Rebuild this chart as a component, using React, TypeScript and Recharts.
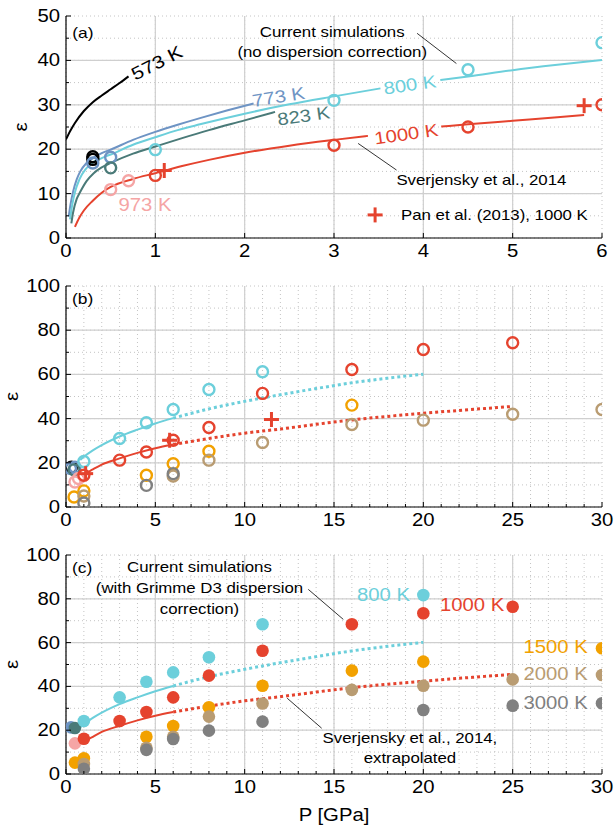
import React from "react";
import { CartesianGrid, ComposedChart, Line, ReferenceDot, ReferenceLine, Scatter, XAxis, YAxis } from "recharts";

const FONT = '"Liberation Sans", Arial, Helvetica, sans-serif';
const SX = 1.16; // the reference lettering is a little wide

const BLACK = "#000000";
const BLUE = "#6e94c4";
const CYAN = "#6ccfdb";
const SLATE = "#4a7a78";
const RED = "#e5432e";
const PINK = "#f5a5a5";
const ORANGE = "#f2a100";
const TAN = "#b99c72";
const GRAY = "#808080";

type Pt = [number, number];

// ticks
const A_X_TICKS = [0, 1, 2, 3, 4, 5, 6];
const A_X_MAJOR = [0, 1, 2, 3, 4, 5, 6];
const A_Y_TICKS = [0, 5, 10, 15, 20, 25, 30, 35, 40, 45, 50];
const A_Y_MAJOR = [0, 10, 20, 30, 40, 50];
const BC_X_TICKS = [
  0, 1, 2, 3, 4, 5, 6, 7, 8, 9, 10, 11, 12, 13, 14, 15, 16, 17, 18, 19, 20, 21, 22, 23, 24, 25, 26, 27, 28, 29, 30,
];
const BC_X_MAJOR = [0, 5, 10, 15, 20, 25, 30];
const BC_Y_TICKS = [0, 10, 20, 30, 40, 50, 60, 70, 80, 90, 100];
const BC_Y_MAJOR = [0, 20, 40, 60, 80, 100];

// (a) Sverjensky et al. 2014 curves
const A_573: Pt[] = [[0, 22.2], [0.05, 24.2], [0.1, 25.9], [0.2, 28.6], [0.3, 30.6], [0.4, 32.1], [0.5, 33.5], [0.6, 34.9], [0.7, 36.4]];
const A_773: Pt[] = [[0.03, 4.8], [0.05, 7.5], [0.08, 10.5], [0.12, 13.2], [0.16, 15], [0.23, 16.9], [0.31, 18.1], [0.4, 19.1], [0.5, 19.9], [0.75, 22.1], [1, 23.9], [1.25, 25.5], [1.5, 27], [1.8, 28.7], [2.1, 30.3]];
const A_800_1: Pt[] = [[0.045, 4.2], [0.07, 7.5], [0.1, 10.3], [0.15, 13.2], [0.22, 15.5], [0.3, 17], [0.4, 18], [0.5, 18.8], [0.75, 21], [1, 22.7], [1.25, 24.3], [1.5, 25.6], [2, 28], [2.5, 30.1], [3, 31.9], [3.52, 33.7]];
const A_800_2: Pt[] = [[4.19, 35.6], [4.5, 36.4], [5, 37.8], [5.5, 39], [6, 40.1]];
const A_823: Pt[] = [[0.06, 3.3], [0.08, 5.8], [0.12, 8.8], [0.16, 10.4], [0.23, 12.8], [0.31, 14.6], [0.4, 15.9], [0.5, 16.9], [0.75, 19], [1, 20.6], [1.3, 22.5], [1.6, 24.3], [2, 26.5], [2.34, 28.4]];
const A_1000_1: Pt[] = [[0.1, 2.5], [0.15, 4.6], [0.2, 6.2], [0.3, 8.4], [0.4, 10.2], [0.5, 11.5], [0.75, 13.3], [1, 14.6], [1.3, 16.2], [1.6, 17.6], [2, 19.2], [2.5, 20.8], [3, 22.1], [3.38, 23]];
const A_1000_2: Pt[] = [[4.2, 25.1], [4.5, 25.6], [5, 26.4], [5.5, 27.2], [5.8, 27.7]];

// (b), (c) Sverjensky curves, dotted part extrapolated
const S_800: Pt[] = [[0.8, 21.3], [1, 22.7], [1.5, 25.6], [2, 28], [3, 31.9], [4, 35], [5, 37.8], [6, 40.2]];
const S_800_EXT: Pt[] = [[6, 40.2], [8, 44.4], [10, 47.8], [12, 50.8], [14, 53.6], [16, 56.2], [18, 58.3], [20, 60.1]];
const S_1000: Pt[] = [[0.9, 13.9], [1, 14.6], [1.5, 17], [2, 19.2], [3, 22], [4, 24.5], [5, 26.6], [6, 28.3]];
const S_1000_EXT: Pt[] = [[6, 28.3], [8, 31], [10, 33.4], [12, 35.3], [14, 37.4], [16, 39.4], [18, 41], [20, 42.4], [22.5, 44], [25, 45.5]];

// (a) simulations, no dispersion correction
const A_PTS_573: Pt[] = [[0.3, 18.3], [0.3, 17.7]];
const A_PTS_773: Pt[] = [[0.3, 16.9], [0.5, 18.2]];
const A_PTS_823: Pt[] = [[0.5, 15.8]];
const A_PTS_973: Pt[] = [[0.5, 10.9], [0.7, 12.9]];
const A_PTS_800: Pt[] = [[1, 19.9], [3, 31], [4.5, 37.9], [6, 44]];
const A_PTS_1000: Pt[] = [[1, 14.1], [3, 20.9], [4.5, 25], [6, 30]];
const A_PAN: Pt[] = [[1.1, 15.2], [5.8, 29.8]];

// (b) same, wider range
const B_PTS_573: Pt[] = [[0.3, 18]];
const B_PTS_773: Pt[] = [[0.25, 17.4], [0.5, 18]];
const B_PTS_823: Pt[] = [[0.45, 16.8]];
const B_PTS_973: Pt[] = [[0.5, 11.3], [0.7, 12.9]];
const B_PTS_800: Pt[] = [[1, 20.6], [3, 31], [4.5, 38.1], [6, 44.1], [8, 53.2], [11, 61.2]];
const B_PTS_1000: Pt[] = [[1, 14.4], [3, 21.2], [4.5, 24.9], [6, 30.2], [8, 36], [11, 51.4], [16, 62.2], [20, 71.3], [25, 74.3]];
const B_PTS_1500: Pt[] = [[0.45, 4.5], [1, 7.3], [4.5, 14.4], [6, 19.6], [8, 25.2], [16, 46.1]];
const B_PTS_2000: Pt[] = [[1, 5], [6, 14], [8, 21.2], [11, 29.2], [16, 37.3], [20, 39.3], [25, 42], [30, 44.1]];
const B_PTS_3000: Pt[] = [[1, 1.8], [4.5, 9.8], [6, 15.1]];
const B_PAN: Pt[] = [[1.1, 15.1], [5.8, 30.2], [11.5, 39.6]];

// (c) with Grimme D3 dispersion correction
const C_PTS_773: Pt[] = [[0.28, 21.3]];
const C_PTS_823: Pt[] = [[0.5, 21]];
const C_PTS_973: Pt[] = [[0.5, 14]];
const C_PTS_800: Pt[] = [[1, 24.2], [3, 35], [4.5, 42.1], [6, 46.4], [8, 53.3], [11, 68.4], [20, 81.7]];
const C_PTS_1000: Pt[] = [[1, 16.1], [3, 24.2], [4.5, 28.3], [6, 35], [8, 44.9], [11, 56.3], [16, 68.4], [20, 73.4], [25, 76.4]];
const C_PTS_1500: Pt[] = [[0.5, 5.2], [1, 7.2], [4.5, 17], [6, 21.9], [8, 30.5], [11, 40.3], [16, 47.2], [20, 51.3], [30, 57.4]];
const C_PTS_2000: Pt[] = [[1, 4.6], [4.5, 12], [6, 17], [8, 26.2], [11, 32.2], [16, 38.4], [20, 40.3], [25, 43.2], [30, 45.2]];
const C_PTS_3000: Pt[] = [[1, 2.4], [4.5, 11], [6, 16], [8, 19.8], [11, 23.9], [20, 29.2], [25, 31.2], [30, 32.3]];

const pts = (a: Pt[]) => a.map(([x, y]) => ({ x, y }));

function Txt({ x, y, size = 17.5, anchor = "middle", fill = "#000", angle = 0, children }: any) {
  return (
    <text
      transform={`translate(${x},${y}) rotate(${angle}) scale(${SX},1)`}
      fontSize={size}
      fontFamily={FONT}
      textAnchor={anchor}
      dominantBaseline="central"
      fill={fill}
    >
      {children}
    </text>
  );
}

function tickFn(side: string, step: number, labels: boolean) {
  return (props: any) => {
    const { x, y, payload } = props;
    const v = payload.value;
    const major = Math.abs(v / step - Math.round(v / step)) < 1e-6;
    const len = major ? 5 : 3;
    let x2 = x;
    let y2 = y;
    if (side === "bottom") y2 = y - len;
    if (side === "top") y2 = y + len;
    if (side === "left") x2 = x + len;
    if (side === "right") x2 = x - len;
    return (
      <g>
        <line x1={x} y1={y} x2={x2} y2={y2} stroke="#000" strokeWidth={1} />
        {labels && major && side === "bottom" && <Txt x={x} y={y + 13}>{v}</Txt>}
        {labels && major && side === "left" && <Txt x={x - 6} y={y} anchor="end">{v}</Txt>}
      </g>
    );
  };
}

function frame(o: any) {
  const xs = o.xMajor[1] - o.xMajor[0];
  const ys = o.yMajor[1] - o.yMajor[0];
  const common = {
    type: "number" as const,
    allowDataOverflow: true,
    interval: 0 as const,
    tickSize: 0,
    tickMargin: 0,
    tickLine: false,
    axisLine: { stroke: "#000", strokeWidth: 1.2 },
  };
  const inner = (a: number[]) => a.slice(1, -1);
  return [
    <CartesianGrid key="g1" stroke="#c4c4c4" strokeDasharray="1 3" />,
    ...inner(o.yMajor).map((v: number) => <ReferenceLine key={`gy${v}`} y={v} stroke="#cfcfcf" strokeWidth={1.2} />),
    ...inner(o.xMajor).map((v: number) => <ReferenceLine key={`gx${v}`} x={v} stroke="#cfcfcf" strokeWidth={1.2} />),
    <XAxis
      key="xb"
      dataKey="x"
      {...common}
      domain={o.xDomain}
      ticks={o.xTicks}
      height={o.xHeight}
      tick={tickFn("bottom", xs, true)}
      label={
        o.xLabel
          ? { content: (p: any) => <Txt x={p.viewBox.x + p.viewBox.width / 2} y={p.viewBox.y + 41}>{o.xLabel}</Txt> }
          : undefined
      }
    />,
    <XAxis key="xt" xAxisId="top" orientation="top" {...common} domain={o.xDomain} ticks={o.xTicks} height={0} tick={tickFn("top", xs, false)} />,
    <YAxis
      key="yl"
      dataKey="y"
      {...common}
      domain={o.yDomain}
      ticks={o.yTicks}
      width={66}
      tick={tickFn("left", ys, true)}
      label={{ content: (p: any) => <Txt x={p.viewBox.x + o.epsX} y={p.viewBox.y + p.viewBox.height / 2} angle={-90}>ε</Txt> }}
    />,
    <YAxis key="yr" yAxisId="right" orientation="right" {...common} domain={o.yDomain} ticks={o.yTicks} width={0} tick={tickFn("right", ys, false)} />,
  ];
}

const ring = (color: string) => (p: any) => <circle cx={p.cx} cy={p.cy} r={5.5} fill="none" stroke={color} strokeWidth={2.4} />;
const disc = (color: string) => (p: any) => <circle cx={p.cx} cy={p.cy} r={6.3} fill={color} />;
const plus = (color: string) => (p: any) => (
  <g stroke={color} strokeWidth={3}>
    <line x1={p.cx - 7.5} y1={p.cy} x2={p.cx + 7.5} y2={p.cy} />
    <line x1={p.cx} y1={p.cy - 7.5} x2={p.cx} y2={p.cy + 7.5} />
  </g>
);

const solid = (key: string, data: Pt[], color: string) => (
  <Line key={key} data={pts(data)} dataKey="y" type="monotone" stroke={color} strokeWidth={2} dot={false} activeDot={false} isAnimationActive={false} />
);
const dotted = (key: string, data: Pt[], color: string) => (
  <Line key={key} data={pts(data)} dataKey="y" type="monotone" stroke={color} strokeWidth={3} strokeDasharray="3 3" dot={false} activeDot={false} isAnimationActive={false} />
);
const marks = (key: string, data: Pt[], shape: any) => (
  <Scatter key={key} data={pts(data)} dataKey="y" shape={shape} isAnimationActive={false} />
);
const note = (x: number, y: number, text: string, o: any = {}) => (
  <ReferenceDot key={`${text}-${x}-${y}`} x={x} y={y} r={0} fill="none" stroke="none" shape={(p: any) => <Txt x={p.cx} y={p.cy} {...o}>{text}</Txt>} />
);
const lead = (x1: number, y1: number, x2: number, y2: number) => (
  <ReferenceLine key={`l-${x1}-${y1}`} segment={[{ x: x1, y: y1 }, { x: x2, y: y2 }]} stroke="#000" strokeWidth={0.8} />
);

const SMALL = { size: 14.5 };

export default function App() {
  return (
    <div style={{ position: "absolute", left: 0, top: 0, width: 614, height: 828, background: "#fff" }}>
      <ComposedChart width={614} height={260} margin={{ top: 16, right: 12, bottom: 0, left: 0 }}>
        {frame({ xDomain: [0, 6], yDomain: [0, 50], xTicks: A_X_TICKS, yTicks: A_Y_TICKS, xMajor: A_X_MAJOR, yMajor: A_Y_MAJOR, xHeight: 22, epsX: 21 })}
        {solid("l573", A_573, BLACK)}
        {solid("l773", A_773, BLUE)}
        {solid("l800a", A_800_1, CYAN)}
        {solid("l800b", A_800_2, CYAN)}
        {solid("l823", A_823, SLATE)}
        {solid("l1000a", A_1000_1, RED)}
        {solid("l1000b", A_1000_2, RED)}
        {marks("p573", A_PTS_573, ring(BLACK))}
        {marks("p773", A_PTS_773, ring(BLUE))}
        {marks("p823", A_PTS_823, ring(SLATE))}
        {marks("p973", A_PTS_973, ring(PINK))}
        {marks("p800", A_PTS_800, ring(CYAN))}
        {marks("p1000", A_PTS_1000, ring(RED))}
        {marks("pan", A_PAN, plus(RED))}
        {note(0.07, 46.4, "(a)", { ...SMALL, anchor: "start", size: 15 })}
        {note(2.98, 46.4, "Current simulations", SMALL)}
        {note(2.98, 41.9, "(no dispersion correction)", SMALL)}
        {lead(3.93, 46.1, 4.37, 39.3)}
        {note(4.65, 13.1, "Sverjensky et al., 2014", SMALL)}
        {lead(3.27, 21.3, 3.7, 15.3)}
        <ReferenceDot x={3.46} y={5.2} r={0} shape={plus(RED)} />
        {note(3.75, 5.2, "Pan et al. (2013), 1000 K", { ...SMALL, anchor: "start" })}
        {note(1.015, 39.5, "573 K", { angle: -27, size: 18 })}
        {note(2.38, 31.8, "773 K", { fill: BLUE, angle: -9 })}
        {note(2.66, 27.5, "823 K", { fill: SLATE, angle: -8 })}
        {note(3.85, 34.5, "800 K", { fill: CYAN, angle: -8 })}
        {note(3.81, 23.4, "1000 K", { fill: RED, angle: -8 })}
        {note(0.885, 7.4, "973 K", { fill: PINK })}
      </ComposedChart>

      <ComposedChart width={614} height={270} margin={{ top: 26, right: 12, bottom: 0, left: 0 }}>
        {frame({ xDomain: [0, 30], yDomain: [0, 100], xTicks: BC_X_TICKS, yTicks: BC_Y_TICKS, xMajor: BC_X_MAJOR, yMajor: BC_Y_MAJOR, xHeight: 23, epsX: 12 })}
        {solid("s800", S_800, CYAN)}
        {dotted("d800", S_800_EXT, CYAN)}
        {solid("s1000", S_1000, RED)}
        {dotted("d1000", S_1000_EXT, RED)}
        {marks("b573", B_PTS_573, ring(BLACK))}
        {marks("b773", B_PTS_773, ring(BLUE))}
        {marks("b823", B_PTS_823, ring(SLATE))}
        {marks("b973", B_PTS_973, ring(PINK))}
        {marks("b1500", B_PTS_1500, ring(ORANGE))}
        {marks("b2000", B_PTS_2000, ring(TAN))}
        {marks("b3000", B_PTS_3000, ring(GRAY))}
        {marks("b800", B_PTS_800, ring(CYAN))}
        {marks("b1000", B_PTS_1000, ring(RED))}
        {marks("bpan", B_PAN, plus(RED))}
        {note(0.34, 94.5, "(b)", { anchor: "start", size: 15 })}
      </ComposedChart>

      <ComposedChart width={614} height={298} margin={{ top: 25, right: 12, bottom: 0, left: 0 }}>
        {frame({ xDomain: [0, 30], yDomain: [0, 100], xTicks: BC_X_TICKS, yTicks: BC_Y_TICKS, xMajor: BC_X_MAJOR, yMajor: BC_Y_MAJOR, xHeight: 54, epsX: 12, xLabel: "P [GPa]" })}
        {solid("s800", S_800, CYAN)}
        {dotted("d800", S_800_EXT, CYAN)}
        {solid("s1000", S_1000, RED)}
        {dotted("d1000", S_1000_EXT, RED)}
        {marks("c773", C_PTS_773, disc(BLUE))}
        {marks("c823", C_PTS_823, disc(SLATE))}
        {marks("c973", C_PTS_973, disc(PINK))}
        {marks("c800", C_PTS_800, disc(CYAN))}
        {marks("c1000", C_PTS_1000, disc(RED))}
        {marks("c1500", C_PTS_1500, disc(ORANGE))}
        {marks("c2000", C_PTS_2000, disc(TAN))}
        {marks("c3000", C_PTS_3000, disc(GRAY))}
        {note(0.34, 94.5, "(c)", { anchor: "start", size: 15 })}
        {note(7.47, 94.7, "Current simulations", SMALL)}
        {note(7.47, 84.8, "(with Grimme D3 dispersion", SMALL)}
        {note(7.47, 75.2, "correction)", SMALL)}
        {lead(13.56, 84.3, 15.52, 70.6)}
        {note(19.25, 16.3, "Sverjensky et al., 2014,", SMALL)}
        {note(19.25, 7.4, "extrapolated", SMALL)}
        {lead(12.38, 34.6, 14.31, 20.9)}
        {note(19.25, 81.7, "800 K", { fill: CYAN, anchor: "end" })}
        {note(20.93, 77.2, "1000 K", { fill: RED, anchor: "start" })}
        {note(29.2, 57.9, "1500 K", { fill: ORANGE, anchor: "end" })}
        {note(29.2, 45.5, "2000 K", { fill: TAN, anchor: "end" })}
        {note(29.2, 32.3, "3000 K", { fill: GRAY, anchor: "end" })}
      </ComposedChart>
    </div>
  );
}
